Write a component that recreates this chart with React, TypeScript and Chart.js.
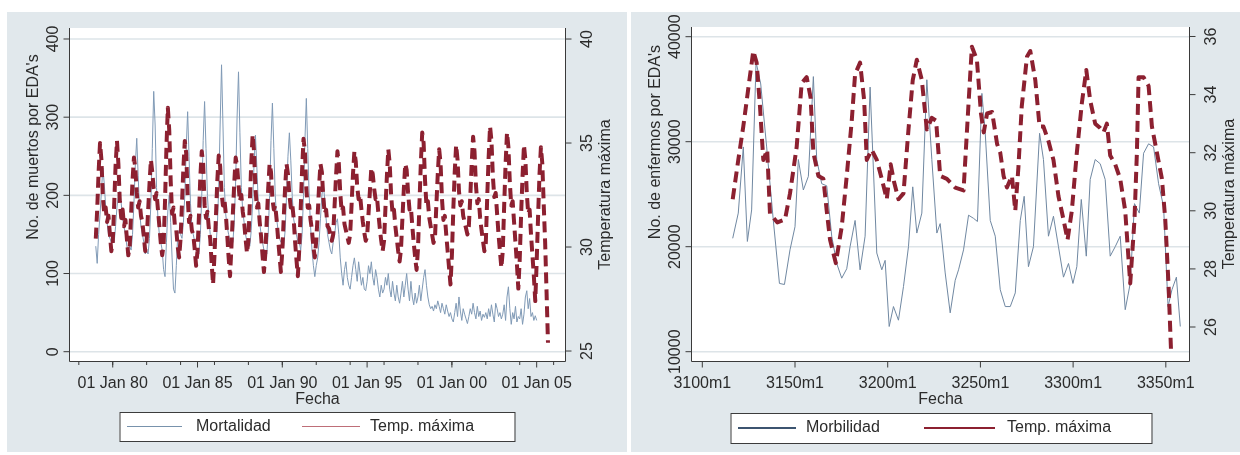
import React, { useEffect, useRef } from 'react';
import { Chart, registerables } from 'chart.js';

Chart.register(...registerables);

// ------------------------------------------------------------------
// Left panel: monthly series, January 1979 onwards
// ------------------------------------------------------------------
const mortStartYear = 1979;
const mortalidad = [
  135, 113, 150, 175, 205, 235, 215, 185, 165, 150, 145, 140, // 1979
  150, 140, 160, 185, 200, 205, 190, 170, 160, 150, 135, 130, // 1980
  135, 130, 150, 190, 240, 273, 225, 180, 160, 150, 140, 125, // 1981
  130, 125, 145, 190, 260, 333, 290, 210, 170, 150, 140, 130, // 1982
  105, 96, 140, 180, 200, 165, 120, 80, 75, 110, 150, 155, // 1983
  150, 145, 165, 200, 260, 307, 250, 190, 160, 150, 140, 130, // 1984
  130, 125, 150, 200, 270, 320, 260, 200, 170, 150, 140, 135, // 1985
  140, 135, 160, 210, 290, 367, 290, 210, 175, 160, 150, 140, // 1986
  145, 140, 165, 220, 300, 358, 280, 210, 180, 165, 150, 140, // 1987
  140, 135, 155, 190, 240, 277, 235, 190, 165, 150, 140, 130, // 1988
  130, 125, 150, 200, 270, 318, 260, 200, 170, 155, 145, 140, // 1989
  140, 135, 155, 200, 250, 280, 245, 200, 170, 160, 150, 140, // 1990
  140, 130, 150, 200, 270, 324, 260, 200, 160, 130, 110, 96, // 1991
  110, 120, 140, 170, 200, 215, 195, 170, 150, 140, 130, 125, // 1992
  140, 150, 165, 170, 150, 120, 100, 85, 105, 115, 95, 85, // 1993
  80, 95, 110, 120, 105, 90, 115, 100, 85, 95, 80, 78, // 1994
  90, 110, 100, 115, 95, 85, 105, 95, 80, 70, 85, 75, // 1995
  80, 95, 85, 100, 80, 70, 90, 75, 65, 85, 70, 62, // 1996
  75, 90, 70, 85, 100, 80, 65, 90, 70, 60, 75, 62, // 1997
  70, 85, 65, 80, 95, 105, 85, 70, 60, 55, 58, 52, // 1998
  60, 55, 65, 58, 50, 62, 55, 48, 60, 52, 45, 50, // 1999
  42, 38, 50, 62, 45, 70, 52, 40, 55, 48, 42, 36, // 2000
  45, 55, 48, 62, 50, 42, 58, 45, 52, 40, 48, 44, // 2001
  50, 42, 55, 45, 60, 48, 38, 62, 55, 45, 50, 42, // 2002
  48, 60, 40, 70, 83, 55, 35, 50, 42, 58, 38, 45, // 2003
  42, 55, 35, 48, 70, 78, 55, 68, 45, 50, 40, 46, // 2004
  40, // 2005
];

const tempStartYear = 1979;
const tempMaximaLeft = [
  30.4, 31.8, 33.6, 35.0, 34.2, 32.4, 31.6, 31.9, 31.2, 31.5, 30.6, 29.8, // 1979
  30.2, 32.0, 33.9, 35.1, 34.0, 32.2, 31.4, 31.8, 31.0, 31.3, 30.4, 29.6, // 1980
  30.0, 31.6, 33.2, 34.3, 33.8, 32.6, 31.9, 32.2, 31.5, 31.2, 30.5, 29.8, // 1981
  30.3, 31.7, 33.0, 34.2, 33.6, 32.8, 32.3, 32.6, 31.8, 31.0, 30.2, 29.6, // 1982
  30.1, 32.2, 34.8, 36.7, 35.6, 33.2, 31.6, 31.9, 31.0, 30.8, 30.0, 29.5, // 1983
  30.4, 32.1, 33.8, 35.1, 34.5, 32.5, 31.2, 31.5, 30.8, 30.6, 29.9, 29.1, // 1984
  29.8, 31.5, 33.4, 34.6, 34.0, 32.0, 31.4, 31.7, 30.9, 30.4, 29.2, 28.2, // 1985
  29.6, 31.4, 33.2, 34.4, 33.9, 32.6, 32.0, 32.3, 31.6, 30.6, 29.5, 28.6, // 1986
  30.0, 31.6, 33.1, 34.3, 33.9, 33.0, 32.2, 32.5, 31.7, 31.2, 30.4, 29.7, // 1987
  30.3, 32.1, 34.0, 35.4, 34.6, 32.8, 31.9, 32.1, 31.2, 30.5, 29.6, 28.8, // 1988
  29.7, 31.3, 32.8, 34.0, 33.6, 32.3, 31.8, 32.0, 31.3, 30.4, 29.6, 28.8, // 1989
  29.8, 31.4, 32.9, 34.0, 33.5, 32.5, 31.9, 32.1, 31.4, 30.3, 29.4, 28.6, // 1990
  29.9, 31.8, 33.7, 35.2, 34.6, 32.8, 31.9, 32.0, 31.3, 30.8, 30.0, 29.5, // 1991
  30.3, 31.5, 32.9, 34.0, 33.6, 32.4, 31.6, 31.8, 31.0, 30.9, 30.6, 30.3, // 1992
  30.6, 32.0, 33.4, 34.6, 34.0, 32.6, 31.7, 31.9, 31.1, 30.8, 30.5, 30.2, // 1993
  30.6, 32.0, 33.5, 34.6, 34.1, 32.9, 32.3, 32.5, 31.8, 31.2, 30.7, 30.3, // 1994
  30.5, 31.6, 32.7, 33.8, 33.5, 32.8, 32.3, 32.4, 31.6, 30.9, 30.3, 29.8, // 1995
  30.3, 31.9, 33.4, 34.7, 34.0, 32.5, 31.6, 31.8, 31.0, 30.4, 29.8, 29.3, // 1996
  29.9, 31.4, 32.8, 34.0, 33.7, 32.6, 31.8, 31.9, 31.0, 30.2, 29.5, 28.9, // 1997
  29.9, 32.0, 34.0, 35.5, 35.0, 33.2, 32.0, 32.2, 31.4, 31.0, 30.6, 30.2, // 1998
  30.4, 32.0, 33.5, 34.7, 34.0, 32.3, 31.3, 31.5, 30.6, 29.8, 29.0, 28.2, // 1999
  29.6, 31.8, 33.6, 34.9, 34.2, 32.7, 32.0, 32.2, 31.5, 31.2, 30.9, 30.6, // 2000
  31.0, 32.4, 34.0, 35.3, 34.6, 33.0, 32.1, 32.3, 31.4, 30.8, 30.3, 29.8, // 2001
  30.2, 32.4, 34.3, 35.8, 35.1, 33.4, 32.4, 32.6, 31.6, 30.6, 29.8, 29.0, // 2002
  29.8, 32.0, 34.0, 35.5, 34.8, 33.1, 32.0, 32.2, 31.2, 30.2, 29.2, 28.0, // 2003
  29.4, 31.6, 33.4, 34.9, 34.2, 32.6, 31.6, 31.8, 30.6, 29.6, 28.6, 27.4, // 2004
  29.3, 31.5, 33.5, 34.8, 34.0, 32.0, 30.2, 27.8, 25.4, // 2005
];

const leftYTicks = [0, 100, 200, 300, 400];
const leftY2Ticks = [25, 30, 35, 40];
const leftXMajor = [1980, 1985, 1990, 1995, 2000, 2005];
const leftXMajorLabels = ['01 Jan 80', '01 Jan 85', '01 Jan 90', '01 Jan 95', '01 Jan 00', '01 Jan 05'];
const leftXMinor = [1978, 1980, 1982, 1984, 1986, 1988, 1990, 1992, 1994, 1996, 1998, 2000, 2002, 2004, 2006];

// ------------------------------------------------------------------
// Right panel
// ------------------------------------------------------------------
const morbX = [
  3116.4, 3119.4, 3122.1, 3124.3, 3126.6, 3129.0, 3131.5, 3134.7, 3138.3, 3141.6,
  3144.3, 3147.3, 3150.0, 3151.8, 3154.5, 3157.2, 3159.9, 3161.7, 3164.4, 3167.1,
  3169.8, 3172.5, 3175.2, 3177.9, 3179.7, 3182.4, 3185.1, 3187.8, 3190.5, 3192.3,
  3194.1, 3196.8, 3198.6, 3200.8, 3203.1, 3205.8, 3208.5, 3211.2, 3213.5, 3215.7,
  3218.4, 3221.1, 3223.8, 3226.5, 3228.3, 3231.0, 3233.7, 3236.4, 3238.2, 3240.9,
  3243.6, 3246.3, 3248.4, 3250.8, 3252.6, 3255.3, 3258.0, 3260.7, 3263.4, 3266.1,
  3268.8, 3271.5, 3273.6, 3275.9, 3278.6, 3281.9, 3284.0, 3286.7, 3289.4, 3292.1,
  3294.8, 3297.5, 3299.9, 3302.0, 3304.4, 3307.1, 3309.2, 3311.9, 3314.6, 3317.3,
  3320.0, 3322.7, 3325.4, 3328.1, 3330.8, 3333.1, 3335.7, 3338.0, 3340.7, 3343.4,
  3346.1, 3348.8, 3351.2, 3353.3, 3355.7, 3357.8,
];
const morbilidad = [
  20800, 23200, 29500, 20500, 23500, 37600, 35500, 29500, 22500, 16500,
  16400, 19700, 21900, 28300, 25400, 26700, 36200, 28300, 26000, 25800,
  21000, 18400, 17000, 17900, 20000, 22500, 17800, 21000, 35200, 27300,
  19400, 17800, 18700, 12400, 14300, 13000, 16200, 20000, 25700, 21300,
  23200, 35900, 28300, 21300, 22200, 17500, 13700, 16800, 17800, 19700,
  23000, 22700, 22400, 34600, 30800, 22500, 21000, 15900, 14300, 14300,
  15600, 22500, 24800, 18100, 20000, 30800, 28300, 21000, 22900, 20000,
  17100, 18400, 16500, 18100, 24500, 19100, 26400, 28300, 27900, 26400,
  19100, 20000, 21000, 14000, 16500, 24100, 23200, 28900, 29800, 29500,
  26000, 23800, 14300, 15900, 17100, 12400,
];

const tempX = [
  3116.4, 3119.4, 3122.1, 3125.4, 3127.5, 3129.3, 3131.1, 3132.9, 3135.0, 3136.5,
  3140.5, 3144.6, 3147.3, 3150.9, 3153.6, 3156.3, 3158.4, 3159.9, 3162.6, 3165.3,
  3167.1, 3168.9, 3172.0, 3175.2, 3177.9, 3180.6, 3182.4, 3185.1, 3187.3, 3188.7,
  3191.4, 3194.1, 3196.8, 3199.5, 3201.6, 3203.4, 3205.8, 3208.5, 3211.2, 3213.5,
  3215.7, 3218.4, 3221.1, 3223.8, 3226.1, 3228.3, 3231.9, 3236.4, 3240.9, 3243.6,
  3245.4, 3248.1, 3250.3, 3251.8, 3253.6, 3256.3, 3259.0, 3260.7, 3262.5, 3264.3,
  3267.0, 3268.8, 3270.5, 3272.3, 3275.1, 3276.9, 3279.6, 3281.9, 3284.0, 3286.7,
  3289.4, 3292.1, 3294.8, 3297.0, 3299.3, 3302.0, 3304.7, 3307.1, 3309.2, 3311.9,
  3314.6, 3316.4, 3318.2, 3320.0, 3322.7, 3325.4, 3328.1, 3330.8, 3333.1, 3334.4,
  3335.3, 3338.0, 3340.7, 3342.5, 3345.2, 3347.9, 3349.7, 3351.5, 3352.8,
];
const tempMaximaRight = [
  30.4, 31.75, 32.9, 34.5, 35.5, 35.1, 33.6, 31.75, 32.1, 29.9,
  29.6, 29.7, 30.6, 32.2, 34.4, 34.6, 33.9, 32.0, 31.2, 31.1,
  30.0, 29.0, 28.2, 29.45, 31.2, 33.1, 34.7, 35.1, 33.8, 31.75,
  32.1, 31.75, 31.1, 30.4, 31.6, 31.0, 30.4, 30.6, 32.8, 34.5,
  35.2, 34.5, 32.8, 33.2, 33.1, 31.2, 31.1, 30.8, 30.7, 33.7,
  35.65, 35.2, 33.35, 32.7, 33.35, 33.4, 32.3, 32.0, 31.2, 30.8,
  31.2, 30.0, 31.5, 33.6, 35.3, 35.5, 34.5, 32.9, 32.9, 32.4,
  31.75, 30.5, 29.7, 29.0, 30.0, 32.0, 33.7, 34.85, 33.8, 33.0,
  32.85, 32.7, 33.0, 31.9, 31.6, 31.1, 30.0, 27.5, 29.7, 32.0,
  34.6, 34.6, 34.3, 32.9, 32.0, 31.1, 29.7, 27.4, 25.2,
];

const rightYTicks = [10000, 20000, 30000, 40000];
const rightY2Ticks = [26, 28, 30, 32, 34, 36];
const rightXTicks = [3100, 3150, 3200, 3250, 3300, 3350];
const rightXLabels = ['3100m1', '3150m1', '3200m1', '3250m1', '3300m1', '3350m1'];

// ------------------------------------------------------------------
// Styling
// ------------------------------------------------------------------
const FONT = '"Liberation Sans", Arial, Helvetica, sans-serif';
const TEXT = '#2b2b2b';
const AXIS = '#3a3a3a';
const GRID = 'rgb(221,228,232)';
const PANEL_BG = 'rgb(225,232,236)';
const RED = 'rgb(140,32,48)';

type PanelSpec = {
  left: number; top: number; width: number; height: number;
  padding: { left: number; top: number; right: number; bottom: number };
  xRange: [number, number]; yRange: [number, number]; y2Range: [number, number];
  yTicks: number[]; y2Ticks: number[];
  xMajor: number[]; xMajorLabels: string[]; xMinor: number[];
  yTitle: string; y2Title: string; xTitle: string;
  yTitleCenterY: number;
  s1Label: string; s1: { x: number; y: number }[]; s1Color: string; s1Width: number;
  s2: { x: number; y: number }[];
  legend: {
    x: number; y: number; w: number; h: number; cy: number;
    l1: [number, number]; t1: number; l2: [number, number]; t2: number;
    c1: string; c2: string; lw: number;
  };
};

function vText(ctx: CanvasRenderingContext2D, text: string, x: number, y: number) {
  ctx.save();
  ctx.translate(x, y);
  ctx.rotate(-Math.PI / 2);
  ctx.textAlign = 'center';
  ctx.textBaseline = 'middle';
  ctx.fillText(text, 0, 0);
  ctx.restore();
}

function seg(ctx: CanvasRenderingContext2D, x1: number, y1: number, x2: number, y2: number) {
  ctx.beginPath();
  ctx.moveTo(x1, y1);
  ctx.lineTo(x2, y2);
  ctx.stroke();
}

function makePlugin(p: PanelSpec) {
  return {
    id: 'stataFrame',
    beforeDatasetsDraw(chart: any) {
      const { ctx, chartArea: a } = chart;
      const y = chart.scales.y;
      ctx.save();
      ctx.fillStyle = '#ffffff';
      ctx.fillRect(a.left, a.top, a.right - a.left, a.bottom - a.top);
      ctx.strokeStyle = GRID;
      ctx.lineWidth = 1.6;
      for (const v of p.yTicks) {
        const py = y.getPixelForValue(v);
        seg(ctx, a.left, py, a.right, py);
      }
      ctx.restore();
    },
    afterDatasetsDraw(chart: any) {
      const { ctx, chartArea: a } = chart;
      const x = chart.scales.x, y = chart.scales.y, y2 = chart.scales.y1;
      ctx.save();
      ctx.strokeStyle = AXIS;
      ctx.lineWidth = 1;
      const L = Math.round(a.left) - 0.5, R = Math.round(a.right) + 0.5, B = Math.round(a.bottom) + 0.5;
      seg(ctx, L, a.top, L, B);
      seg(ctx, R, a.top, R, B);
      seg(ctx, L, B, R, B);

      ctx.fillStyle = TEXT;
      ctx.font = `16px ${FONT}`;
      for (const v of p.yTicks) {
        const py = y.getPixelForValue(v);
        seg(ctx, L - 6, py, L, py);
        vText(ctx, String(v), L - 16, py);
      }
      for (const v of p.y2Ticks) {
        const py = y2.getPixelForValue(v);
        seg(ctx, R, py, R + 6, py);
        vText(ctx, String(v), R + 22, py);
      }
      for (const v of p.xMinor) {
        const px = x.getPixelForValue(v);
        seg(ctx, px, B, px, B + 3.5);
      }
      ctx.textAlign = 'center';
      ctx.textBaseline = 'alphabetic';
      p.xMajor.forEach((v, i) => {
        const px = x.getPixelForValue(v);
        seg(ctx, px, B, px, B + 6);
        ctx.fillText(p.xMajorLabels[i], px, B + 26);
      });
      ctx.fillText(p.xTitle, (a.left + a.right) / 2, B + 42);
      vText(ctx, p.yTitle, L - 36, p.yTitleCenterY);
      vText(ctx, p.y2Title, R + 40, (a.top + a.bottom) / 2);

      // legend
      const g = p.legend;
      ctx.fillStyle = '#ffffff';
      ctx.fillRect(g.x, g.y, g.w, g.h);
      ctx.strokeStyle = '#3c3c3c';
      ctx.lineWidth = 1;
      ctx.strokeRect(g.x + 0.5, g.y + 0.5, g.w, g.h);
      ctx.lineWidth = g.lw;
      ctx.strokeStyle = g.c1;
      seg(ctx, g.l1[0], g.cy, g.l1[1], g.cy);
      ctx.strokeStyle = g.c2;
      seg(ctx, g.l2[0], g.cy, g.l2[1], g.cy);
      ctx.fillStyle = TEXT;
      ctx.textAlign = 'left';
      ctx.textBaseline = 'middle';
      ctx.fillText(chart.data.datasets[0].label, g.t1, g.cy);
      ctx.fillText(chart.data.datasets[1].label, g.t2, g.cy);
      ctx.restore();
    },
  };
}

function makeConfig(p: PanelSpec): any {
  return {
    type: 'line',
    data: {
      datasets: [
        {
          label: p.s1Label, data: p.s1, yAxisID: 'y', borderColor: p.s1Color, borderWidth: p.s1Width,
          pointRadius: 0, tension: 0, fill: false, order: 1,
        },
        {
          label: 'Temp. máxima', data: p.s2, yAxisID: 'y1', borderColor: RED, borderWidth: 4,
          borderDash: [11, 6], borderCapStyle: 'butt', borderJoinStyle: 'round',
          pointRadius: 0, tension: 0, fill: false, order: 0,
        },
      ],
    },
    options: {
      responsive: false,
      animation: false,
      devicePixelRatio: 1,
      events: [],
      layout: { padding: p.padding },
      scales: {
        x: { type: 'linear', min: p.xRange[0], max: p.xRange[1], display: false },
        y: { type: 'linear', position: 'left', min: p.yRange[0], max: p.yRange[1], display: false },
        y1: { type: 'linear', position: 'right', min: p.y2Range[0], max: p.y2Range[1], display: false },
      },
      plugins: { legend: { display: false }, tooltip: { enabled: false } },
    },
    plugins: [makePlugin(p)],
  };
}

const leftSpec: PanelSpec = {
  left: 7, top: 12, width: 620, height: 440,
  padding: { left: 63, top: 16, right: 62, bottom: 91 },
  xRange: [1977.48, 2006.67], yRange: [-11.9, 414.07], y2Range: [24.52, 40.53],
  yTicks: leftYTicks, y2Ticks: leftY2Ticks,
  xMajor: leftXMajor, xMajorLabels: leftXMajorLabels, xMinor: leftXMinor,
  yTitle: "No. de muertos por EDA's", y2Title: 'Temperatura máxima', xTitle: 'Fecha',
  yTitleCenterY: 135,
  s1Label: 'Mortalidad',
  s1: mortalidad.map((v, i) => ({ x: mortStartYear + i / 12, y: v })),
  s1Color: 'rgb(128,154,182)', s1Width: 1,
  s2: tempMaximaLeft.map((v, i) => ({ x: tempStartYear + i / 12, y: v })),
  legend: {
    x: 112.5, y: 400, w: 395, h: 29, cy: 414.5,
    l1: [120, 175], t1: 189, l2: [295, 353], t2: 363,
    c1: 'rgb(120,146,172)', c2: 'rgb(190,110,120)', lw: 1,
  },
};

const rightSpec: PanelSpec = {
  left: 631, top: 12, width: 609, height: 440,
  padding: { left: 61, top: 15, right: 51, bottom: 91 },
  xRange: [3094.44, 3362.5], yRange: [9114, 40924], y2Range: [24.83, 36.327],
  yTicks: rightYTicks, y2Ticks: rightY2Ticks,
  xMajor: rightXTicks, xMajorLabels: rightXLabels, xMinor: [],
  yTitle: "No. de enfermos por EDA's", y2Title: 'Temperatura máxima', xTitle: 'Fecha',
  yTitleCenterY: 130,
  s1Label: 'Morbilidad',
  s1: morbX.slice(0, morbilidad.length).map((xv, i) => ({ x: xv, y: morbilidad[i] })),
  s1Color: 'rgb(112,136,162)', s1Width: 1,
  s2: tempX.slice(0, tempMaximaRight.length).map((xv, i) => ({ x: xv, y: tempMaximaRight[i] })),
  legend: {
    x: 99.5, y: 401, w: 421, h: 30, cy: 416,
    l1: [107, 165], t1: 175, l2: [293, 364], t2: 376,
    c1: 'rgb(60,84,112)', c2: RED, lw: 2,
  },
};

function Panel({ spec }: { spec: PanelSpec }) {
  const ref = useRef<HTMLCanvasElement>(null);
  useEffect(() => {
    const chart = new Chart(ref.current as HTMLCanvasElement, makeConfig(spec));
    return () => chart.destroy();
  }, [spec]);
  return (
    <div
      style={{
        position: 'absolute', left: spec.left, top: spec.top,
        width: spec.width, height: spec.height, background: PANEL_BG,
      }}
    >
      <canvas
        ref={ref}
        width={spec.width}
        height={spec.height}
        style={{ display: 'block', width: spec.width, height: spec.height }}
      />
    </div>
  );
}

export default function App() {
  return (
    <div style={{ position: 'absolute', left: 0, top: 0, width: 1240, height: 455, background: '#ffffff', overflow: 'hidden' }}>
      <Panel spec={leftSpec} />
      <Panel spec={rightSpec} />
    </div>
  );
}
